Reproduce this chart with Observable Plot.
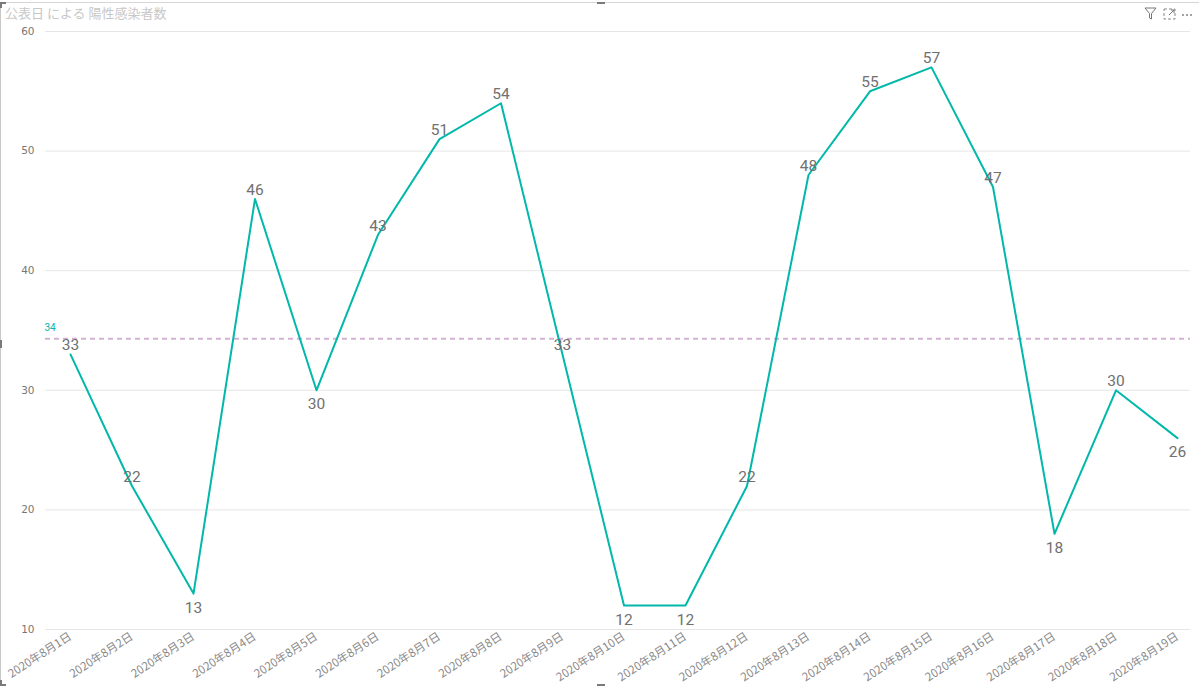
<!DOCTYPE html>
<html>
<head>
<meta charset="utf-8">
<script src="https://cdn.jsdelivr.net/npm/d3@7"></script>
<script src="https://cdn.jsdelivr.net/npm/@observablehq/plot@0.6"></script>
<style>
  html, body { margin: 0; padding: 0; background: #fff; }
  #wrap { position: relative; width: 1200px; height: 687px; overflow: hidden; }
  #title { position: absolute; left: 5px; top: 3px; font-family: "Noto Sans CJK JP", "Noto Sans", sans-serif; font-size: 13px; color: #c8c8c8; }
  #frame { position: absolute; left: 0; top: 2px; width: 1199px; height: 684px; border-top: 1px solid #d6d6d6; border-left: 1px solid #c8c8c8; box-sizing: border-box; pointer-events: none; }
  .h { position: absolute; background: #7a7a7a; }
  #icons { position: absolute; right: 6px; top: 7px; }
  svg.plot { position: absolute; left: 0; top: 0; }
</style>
</head>
<body>
<div id="wrap">
  <div id="chart"></div>
  <div id="frame"></div>
  <div class="h" style="left:0;top:2px;width:6px;height:2px"></div>
  <div class="h" style="left:0;top:2px;width:2px;height:6px"></div>
  <div class="h" style="left:597px;top:2px;width:8px;height:2px"></div>
  <div class="h" style="left:0;top:340px;width:2px;height:8px"></div>
  <div class="h" style="left:0;top:680px;width:2px;height:6px"></div>
  <div class="h" style="left:0;top:684px;width:6px;height:2px"></div>
  <div class="h" style="left:597px;top:684px;width:8px;height:2px"></div>
  <div id="title">公表日 による 陽性感染者数</div>
  <svg id="icons" width="50" height="14" viewBox="0 0 50 14">
    <path d="M1 1 H12 L7.5 6.5 V12 L5.5 11 V6.5 Z" fill="none" stroke="#777" stroke-width="1"/>
    <rect x="20" y="2" width="11" height="10" fill="none" stroke="#888" stroke-width="1" stroke-dasharray="3,2"/>
    <path d="M25 8 L30 3 M27 3 H30 V6" fill="none" stroke="#777" stroke-width="1"/>
    <circle cx="39" cy="8" r="0.9" fill="#777"/><circle cx="43" cy="8" r="0.9" fill="#777"/><circle cx="47" cy="8" r="0.9" fill="#777"/>
  </svg>
</div>
<script>
const dates = ["2020年8月1日","2020年8月2日","2020年8月3日","2020年8月4日","2020年8月5日","2020年8月6日","2020年8月7日","2020年8月8日","2020年8月9日","2020年8月10日","2020年8月11日","2020年8月12日","2020年8月13日","2020年8月14日","2020年8月15日","2020年8月16日","2020年8月17日","2020年8月18日","2020年8月19日"];
const cases = [33,22,13,46,30,43,51,54,33,12,12,22,48,55,57,47,18,30,26];
const yTicks = [10,20,30,40,50,60];

const data = dates.map((d, i) => ({date: d, value: cases[i], i}));
const avg = d3.mean(cases);
const isLow = (i) => {
  const v = cases[i];
  const p = i > 0 ? cases[i - 1] : Infinity;
  const n = i < cases.length - 1 ? cases[i + 1] : Infinity;
  return v <= p && v <= n;
};
const above = data.filter(d => !isLow(d.i));
const below = data.filter(d => isLow(d.i));

const lineColor = "#01B8AA";
const labelFont = "Roboto, 'DejaVu Sans', sans-serif";

const chart = Plot.plot({
  width: 1200,
  height: 687,
  marginTop: 31,
  marginBottom: 58,
  marginLeft: 45,
  marginRight: 10,
  style: {background: "transparent", fontFamily: "'Noto Sans CJK JP', 'Noto Sans', sans-serif"},
  x: {type: "point", domain: dates, range: [70, 1177], padding: 0, round: false, label: null},
  y: {domain: [10, 60], label: null},
  marks: [
    Plot.gridY(yTicks, {stroke: "#e6e6e6", strokeOpacity: 1, strokeWidth: 1}),
    Plot.axisY(yTicks, {tickSize: 0, tickPadding: 11, fill: "#777", fontSize: 10.5, label: null, fontFamily: "'DejaVu Sans', sans-serif"}),
    Plot.axisX({tickSize: 0, tickRotate: -33, tickPadding: 6, fill: "#8a8a8a", fontSize: 11.5, label: null}),
    Plot.ruleY([avg], {stroke: "#d3b1d3", strokeWidth: 2, strokeDasharray: "5,4"}),
    Plot.text([avg], {y: d => d, text: d => String(Math.round(d)), frameAnchor: "left", dx: -1, dy: -11, textAnchor: "start", fill: lineColor, fontSize: 10, fontFamily: labelFont}),
    Plot.line(data, {x: "date", y: "value", stroke: lineColor, strokeWidth: 2}),
    Plot.text(above, {x: "date", y: "value", text: d => String(d.value), lineAnchor: "bottom", dy: -4, fill: "#707070", fontSize: 15.5, fontFamily: labelFont, fontWeight: 400}),
    Plot.text(below, {x: "date", y: "value", text: d => String(d.value), lineAnchor: "top", dy: 8, fill: "#707070", fontSize: 15.5, fontFamily: labelFont, fontWeight: 400})
  ]
});
document.getElementById("chart").appendChild(chart);
</script>
</body>
</html>
